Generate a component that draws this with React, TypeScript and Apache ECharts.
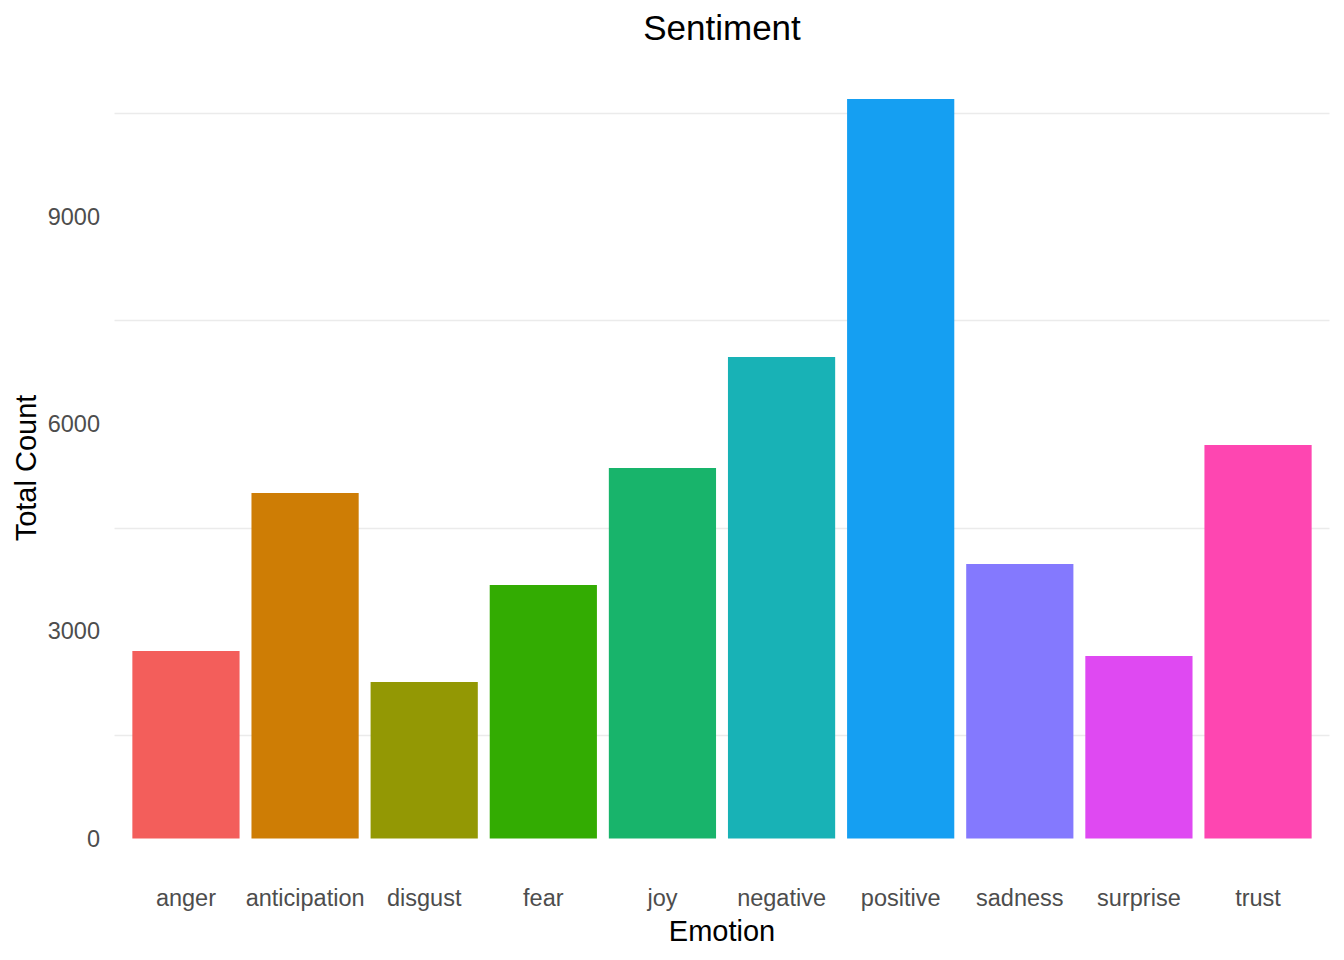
import React, { useEffect, useRef } from "react";
import * as echarts from "echarts";

const categories = ["anger", "anticipation", "disgust", "fear", "joy", "negative", "positive", "sadness", "surprise", "trust"];
const counts = [2716, 5004, 2267, 3672, 5366, 6974, 10711, 3976, 2643, 5700];
const barColors = ["#F35E5B", "#CE7D05", "#939804", "#33AC02", "#18B46B", "#18B2B6", "#159FF2", "#8479FE", "#DF49F2", "#FE46B1"];
const yMin = 0;
const yMax = 11250;
const yStep = 1500;
const labelStep = 3000;

const FONT = "'Liberation Sans', Arial, Helvetica, sans-serif";

export default function App() {
  const ref = useRef<HTMLDivElement>(null);
  useEffect(() => {
    if (!ref.current) return;
    const chart = echarts.init(ref.current, undefined, { renderer: "svg" });
    const option: any = {
      animation: false,
      backgroundColor: "#ffffff",
      title: {
        text: "Sentiment",
        left: 717,
        top: 5,
        textAlign: "center",
        textStyle: { fontFamily: FONT, fontSize: 35, fontWeight: "normal", color: "#000000" },
      },
      grid: [
        { left: 126.4, right: 26.4, top: 61.8, bottom: 121.5, containLabel: false },
        { left: 114.5, right: 14.5, top: 61.8, bottom: 121.5, containLabel: false },
      ],
      xAxis: [
        {
          type: "category",
          gridIndex: 0,
          data: categories,
          axisLine: { show: false },
          axisTick: { show: false },
          splitLine: { show: false },
          axisLabel: { color: "#4d4d4d", fontFamily: FONT, fontSize: 23.5, margin: 47, interval: 0 },
        },
        {
          type: "category",
          gridIndex: 1,
          data: categories,
          show: false,
        },
      ],
      yAxis: [
        {
          type: "value",
          gridIndex: 0,
          min: yMin,
          max: yMax,
          interval: yStep,
          show: false,
          splitLine: { show: false },
        },
        {
          type: "value",
          gridIndex: 1,
          min: yMin,
          max: yMax,
          interval: yStep,
          axisLine: { show: false },
          axisTick: { show: false },
          axisLabel: {
            color: "#4d4d4d",
            fontFamily: FONT,
            fontSize: 23.5,
            margin: 14.5,
            formatter: (v: number) => (v % labelStep === 0 ? String(v) : ""),
          },
          splitLine: {
            show: true,
            lineStyle: { color: ["rgba(0,0,0,0)", "#ebebeb"], width: 1.3 },
          },
        },
      ],
      graphic: [
        {
          type: "text",
          x: 722,
          y: 931,
          style: {
            text: "Emotion",
            fill: "#000000",
            font: `29px ${FONT}`,
            textAlign: "center",
            textVerticalAlign: "middle",
          },
        },
        {
          type: "text",
          x: 26,
          y: 468,
          rotation: Math.PI / 2,
          style: {
            text: "Total Count",
            fill: "#000000",
            font: `29px ${FONT}`,
            textAlign: "center",
            textVerticalAlign: "middle",
          },
        },
      ],
      series: [
        {
          type: "bar",
          xAxisIndex: 0,
          yAxisIndex: 0,
          barWidth: "90%",
          data: counts.map((v, i) => ({ value: v, itemStyle: { color: barColors[i] } })),
        },
      ],
    };
    chart.setOption(option);
    return () => chart.dispose();
  }, []);
  return <div ref={ref} style={{ position: "absolute", left: 0, top: 0, width: 1344, height: 960 }} />;
}
